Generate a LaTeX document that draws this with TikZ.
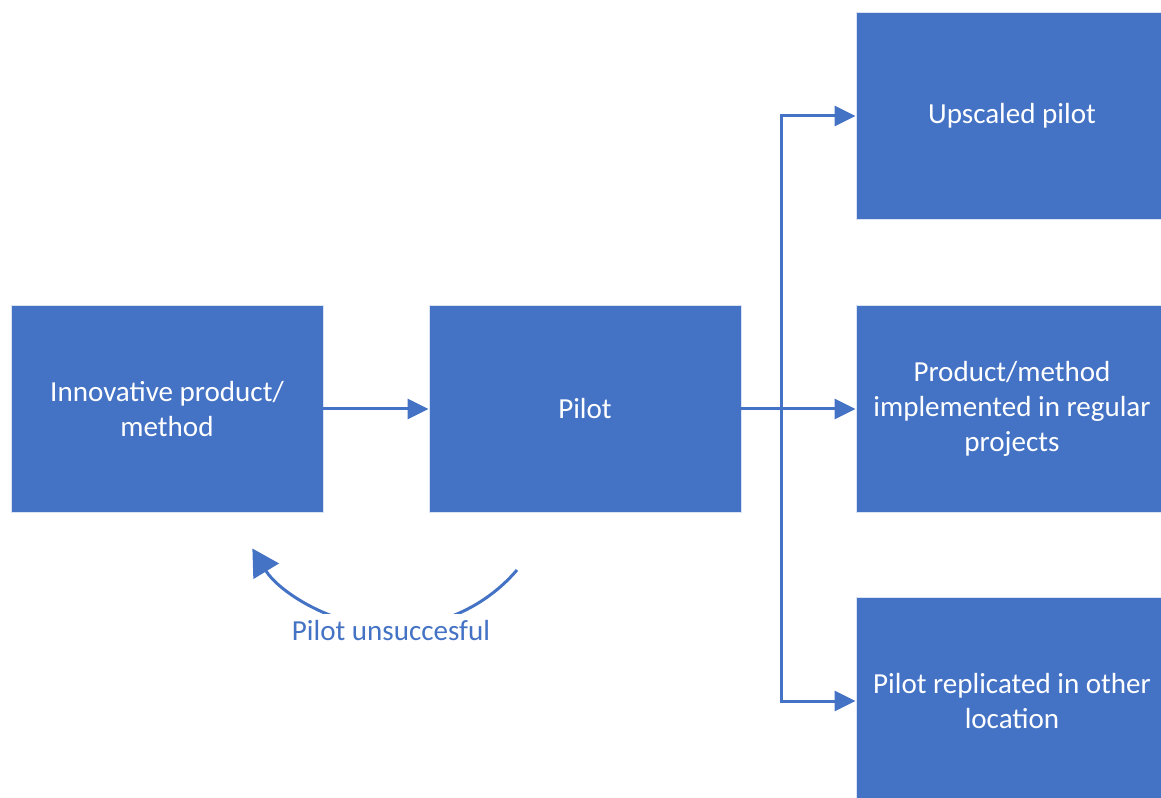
\documentclass[tikz,border=0pt]{standalone}
\usepackage{fontspec}
\setmainfont{Carlito}
\usetikzlibrary{arrows.meta}
\definecolor{blu}{HTML}{4472C4}
\begin{document}
\begin{tikzpicture}[x=0.75pt,y=-0.75pt,
  box/.style={rectangle, fill=blu, draw=white!80!blu, line width=0.6pt,
    text=white, align=center, minimum width=234pt, minimum height=155.25pt,
    font=\fontsize{21.8}{26.25}\selectfont},
  conn/.style={draw=blu, line width=2.25pt,
    -{Triangle[length=15.75pt,width=15pt]}},
  loopback/.style={draw=blu, line width=2.25pt,
    -{Triangle[length=20pt,width=22pt]}},
  lbl/.style={fill=white, text=blu, inner xsep=2pt, inner ysep=4.5pt,
    font=\fontsize{21.8}{26.25}\selectfont}]
  \path[use as bounding box, clip] (0,0) rectangle (1161,798);

  % process boxes
  \node[box] (inn)  at (167,409)  {Innovative product/\\method};
  \node[box] (pil)  at (585,409)  {Pilot};
  \node[box] (up)   at (1012,116) {Upscaled pilot};
  \node[box] (prod) at (1012,409) {Product/method\\implemented in regular\\projects};
  \node[box] (rep)  at (1012,701) {Pilot replicated in other\\location};

  % forward flow
  \coordinate (split) at (781,409);
  \draw[conn] (inn.east) -- (pil.west);
  \draw[conn] (pil.east) -- (prod.west);
  \draw[conn] (split) |- (up.west);
  \draw[conn] (split) |- (rep.west);

  % feedback loop when the pilot fails
  \coordinate (fail) at (517,570);
  \draw[loopback] (fail) arc[start angle=40.6, end angle=148.7, radius=164];
  \node[lbl, anchor=base] (unsucc) at (391,640) {Pilot unsuccesful};
\end{tikzpicture}
\end{document}
